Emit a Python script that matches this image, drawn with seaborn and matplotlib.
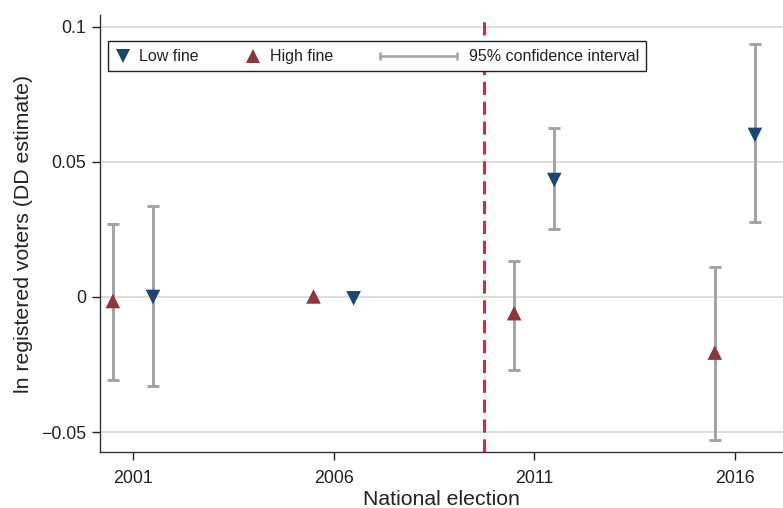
import numpy as np
import pandas as pd
import matplotlib
matplotlib.use("Agg")
import matplotlib.pyplot as plt
import seaborn as sns
from matplotlib.lines import Line2D
from matplotlib.offsetbox import (AnchoredOffsetbox, HPacker, TextArea,
                                  DrawingArea)

# ---------------- data ----------------
elections = [2001, 2006, 2011, 2016]
low_est = [0.0000, -0.0005, 0.0433, 0.0600]
low_lo = [-0.0331, np.nan, 0.0251, 0.0279]
low_hi = [0.0338, np.nan, 0.0627, 0.0936]
high_est = [-0.0015, 0.0002, -0.0060, -0.0206]
high_lo = [-0.0309, np.nan, -0.0270, -0.0530]
high_hi = [0.0270, np.nan, 0.0135, 0.0110]
groups = ["Low fine", "High fine"]
offsets = [0.5, -0.5]
reform_year = 2009.76
yticks = [-0.05, 0.0, 0.05, 0.1]
ytick_labels = ["\u22120.05", "0", "0.05", "0.1"]
ci_label = "95% confidence interval"

NAVY = "#1a476f"
MAROON = "#90353b"
GRAY = "#a3a3a3"
RED = "#d42a44"

rows = []
for g, off, est, lo, hi in [(groups[0], offsets[0], low_est, low_lo, low_hi),
                            (groups[1], offsets[1], high_est, high_lo, high_hi)]:
    for yr, e, l, h in zip(elections, est, lo, hi):
        rows.append(dict(group=g, year=yr, x=yr + off, est=e, lo=l, hi=h))
df = pd.DataFrame(rows)

# ---------------- figure ----------------
sns.set_theme(style="white")
plt.rcParams["font.family"] = ["Liberation Sans", "DejaVu Sans"]

fig = plt.figure(figsize=(7.83, 5.08), dpi=100)
ax = fig.add_axes([100 / 783, 56 / 508, 683 / 783, 437 / 508])

# grid
for yv in yticks:
    ax.axhline(yv, color="#d4d4d4", lw=1.1, zorder=0)

# confidence intervals
ci = df.dropna(subset=["lo", "hi"])
ax.errorbar(ci["x"], (ci["lo"] + ci["hi"]) / 2,
            yerr=(ci["hi"] - ci["lo"]) / 2, fmt="none",
            ecolor=GRAY, elinewidth=2.1, capsize=4.3, capthick=2.1, zorder=2)

# reform line
ax.axvline(reform_year, color=RED, lw=2.2, dashes=(4.3, 2.2), zorder=1)

# point estimates
sns.scatterplot(data=df, x="x", y="est", hue="group", style="group",
                hue_order=groups, style_order=groups,
                palette={groups[0]: NAVY, groups[1]: MAROON},
                markers={groups[0]: "v", groups[1]: "^"},
                s=110, linewidth=0, ax=ax, zorder=3, legend=False)

ax.set_xlim(2000.18, 2017.2)
ax.set_ylim(-0.0574, 0.1044)
ax.set_xticks(elections)
ax.set_xticklabels([str(e) for e in elections])
ax.set_yticks(yticks)
ax.set_yticklabels(ytick_labels)
ax.tick_params(axis="both", which="major", labelsize=12.8, colors="#222222",
               length=6, width=1.0, direction="out", bottom=True, left=True)
ax.tick_params(axis="x", pad=7)
ax.tick_params(axis="y", pad=4)

for side in ["top", "right"]:
    ax.spines[side].set_visible(False)
for side in ["left", "bottom"]:
    ax.spines[side].set_color("#333333")
    ax.spines[side].set_linewidth(1.0)

ax.set_xlabel("National election", fontsize=15.3, color="#222222", labelpad=2)
ax.set_ylabel("ln registered voters (DD estimate)", fontsize=15.3,
              color="#222222", labelpad=6)

# ---------------- legend (custom box; DrawingArea units are points) ----------------
fs = 11.5


def marker_area(marker, color):
    da = DrawingArea(12, 12, 0, 0)
    da.add_artist(Line2D([6], [6], marker=marker, color=color,
                         markersize=9.5, linestyle="none",
                         markeredgewidth=0))
    return da


def ci_area():
    da = DrawingArea(57, 12, 0, 0)
    da.add_artist(Line2D([0.8, 56.2], [6, 6], color=GRAY, lw=1.8,
                         marker="|", markersize=6, markeredgewidth=1.8))
    return da


def txt(s):
    return TextArea(s, textprops=dict(fontsize=fs, color="#222222",
                                      family=["Liberation Sans", "DejaVu Sans"]))


items = [
    HPacker(children=[marker_area("v", NAVY), txt(groups[0])], sep=5.8,
            align="center", pad=0),
    HPacker(children=[marker_area("^", MAROON), txt(groups[1])], sep=5.8,
            align="center", pad=0),
    HPacker(children=[ci_area(), txt(ci_label)], sep=8, align="center",
            pad=0),
]
pack = HPacker(children=items, sep=33, align="center", pad=0)
box = AnchoredOffsetbox(loc="upper left", child=pack, pad=0.42, borderpad=0,
                        frameon=True, bbox_to_anchor=(8 / 683, 1 - 26 / 437),
                        bbox_transform=ax.transAxes,
                        prop=dict(size=11.5))
box.patch.set_boxstyle("square", pad=0)
box.patch.set_edgecolor("#222222")
box.patch.set_linewidth(1.0)
box.patch.set_facecolor("white")
box.zorder = 5
ax.add_artist(box)

fig.savefig("out.png", dpi=100)
